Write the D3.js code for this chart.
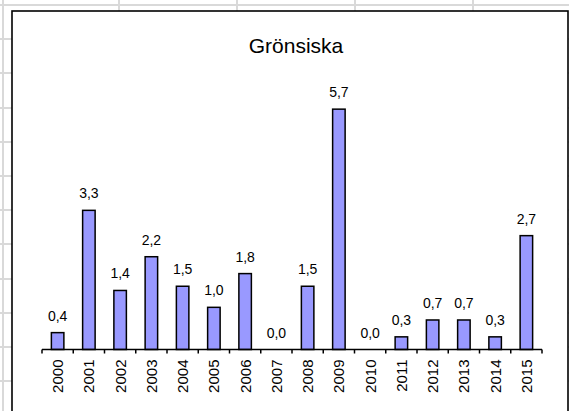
<!DOCTYPE html>
<html>
<head>
<meta charset="utf-8">
<script src="https://cdn.jsdelivr.net/npm/d3@7"></script>
<style>
    body { margin: 0; background: #fff; }
    text { font-family: "Liberation Sans", Arial, sans-serif; fill: #000; }
</style>
</head>
<body>
<div id="chart"></div>
<script>
// Chart data
const years = ["2000", "2001", "2002", "2003", "2004", "2005", "2006", "2007",
    "2008", "2009", "2010", "2011", "2012", "2013", "2014", "2015"];
const counts = [0.4, 3.3, 1.4, 2.2, 1.5, 1.0, 1.8, 0.0, 1.5, 5.7, 0.0, 0.3, 0.7, 0.7, 0.3, 2.7];
const chartTitle = "Grönsiska";

function create_bar_chart(width, height) {
    const svg = d3.select("#chart").append("svg")
        .attr("width", width)
        .attr("height", height);

    // Spreadsheet cells behind the chart
    const grid = svg.append("g").attr("stroke", "#d9d9d9").attr("stroke-width", 2);
    d3.range(5, height, 34.2).forEach(function (y) {
        const yy = Math.round(y);
        grid.append("line").attr("x1", 0).attr("x2", width).attr("y1", yy).attr("y2", yy);
    });
    [3, 119, 237, 355, 473].forEach(function (x) {
        grid.append("line").attr("x1", x).attr("x2", x).attr("y1", 0).attr("y2", height);
    });

    // Chart box
    svg.append("rect")
        .attr("x", 12)
        .attr("y", 11)
        .attr("width", 556)
        .attr("height", 410)
        .attr("fill", "#fff")
        .attr("stroke", "#000")
        .attr("stroke-width", 1.6);

    // Scales
    const x = d3.scaleBand()
        .domain(years)
        .range([42, 542])
        .paddingInner(0.6)
        .paddingOuter(0.3);

    const y = d3.scaleLinear()
        .domain([0, 6])
        .range([349.5, 96.5]);

    // Bars
    svg.selectAll(".bar")
        .data(years)
        .enter().append("rect")
        .attr("class", "bar")
        .attr("x", function (d) { return x(d); })
        .attr("y", function (d, i) { return y(counts[i]); })
        .attr("width", x.bandwidth())
        .attr("height", function (d, i) { return y(0) - y(counts[i]); })
        .attr("fill", "#9999ff")
        .attr("stroke", "#000")
        .attr("stroke-width", 1.5);

    // Value labels
    svg.selectAll(".val")
        .data(years)
        .enter().append("text")
        .attr("class", "val")
        .attr("text-anchor", "middle")
        .attr("x", function (d) { return x(d) + x.bandwidth() / 2; })
        .attr("y", function (d, i) { return y(counts[i]) - 12; })
        .style("font-size", "14px")
        .text(function (d, i) { return counts[i].toFixed(1).replace(".", ","); });

    // X axis (ticks between categories)
    const tickPos = d3.range(years.length + 1).map(function (i) { return 42 + i * (500 / years.length); });
    const axis = svg.append("g").attr("stroke", "#000").attr("stroke-width", 1.5);
    axis.append("line")
        .attr("x1", 42).attr("x2", 542)
        .attr("y1", y(0)).attr("y2", y(0));
    axis.selectAll(".tick")
        .data(tickPos)
        .enter().append("line")
        .attr("x1", function (d) { return d; })
        .attr("x2", function (d) { return d; })
        .attr("y1", y(0))
        .attr("y2", y(0) + 4);

    svg.selectAll(".xlab")
        .data(years)
        .enter().append("text")
        .attr("class", "xlab")
        .attr("text-anchor", "end")
        .attr("transform", function (d) {
            return "translate(" + (x(d) + x.bandwidth() / 2) + "," + 359.5 + ") rotate(-90)";
        })
        .attr("dy", "0.36em")
        .style("font-size", "15px")
        .text(function (d) { return d; });

    // Title
    svg.append("text")
        .attr("text-anchor", "middle")
        .attr("x", 296)
        .attr("y", 53)
        .style("font-size", "21px")
        .text(chartTitle);
}

create_bar_chart(569, 411);
</script>
</body>
</html>
